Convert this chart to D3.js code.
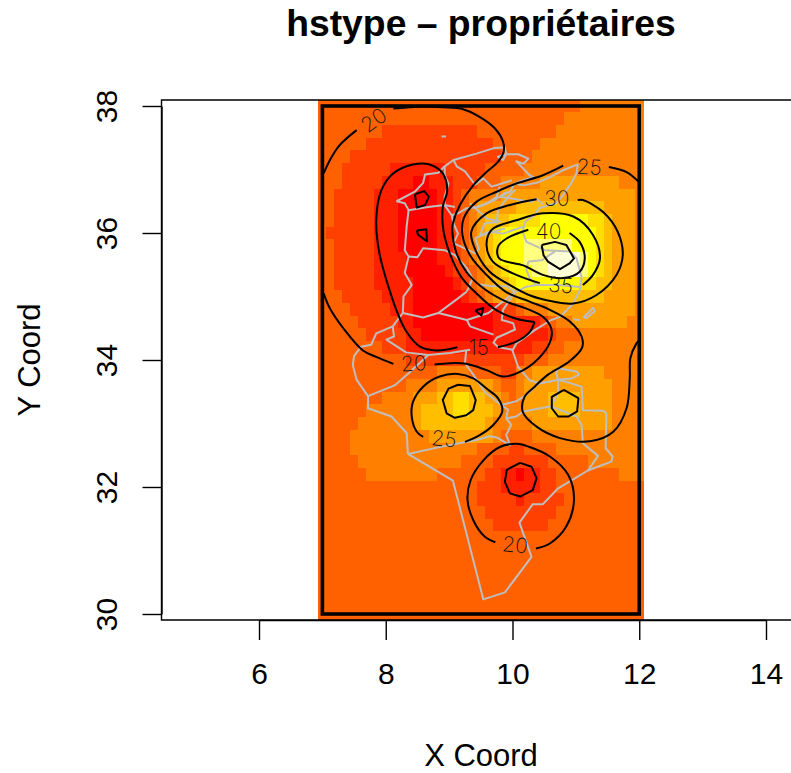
<!DOCTYPE html>
<html><head><meta charset="utf-8">
<script src="https://cdn.jsdelivr.net/npm/d3@7/dist/d3.min.js"></script>
<style>html,body{margin:0;padding:0;background:#fff}svg{display:block}text{font-family:"Liberation Sans",Arial,sans-serif;fill:#000}</style>
</head><body><svg id="c" width="791" height="773"></svg>
<script>
const titleText = "hstype – propriétaires";
const xLabel = "X Coord", yLabel = "Y Coord";
const xTicks = [6,8,10,12,14], yTicks = [30,32,34,36,38];
const heatPalette = ["#FF0000","#FF2000","#FF4000","#FF6000","#FF8000","#FF9F00","#FFBF00","#FFDF00","#FFFF00","#FFFF2A","#FFFF80","#FFFFD5"];
// one entry per grid row, north to south: level:lastColumn runs over 41 columns (7 to 12 degrees)
const heatRows = [
"3:32 4:40","3:30 4:40","3:7 2:19 3:29 4:40","3:5 2:21 3:27 4:40","3:3 2:22 3:26 4:40",
"3:2 2:8 1:15 2:20 3:25 4:40",
"3:2 2:7 1:11 0:13 1:16 2:19 3:22 4:27 5:37 4:40",
"3:1 2:6 1:9 0:14 1:16 2:17 3:18 4:22 5:39 4:40",
"3:1 2:6 1:9 0:14 1:16 2:17 3:18 4:19 5:24 6:35 5:39 4:40",
"3:1 2:6 1:9 0:14 1:16 2:17 3:18 4:19 5:20 6:23 7:27 8:33 7:35 6:36 5:39 4:40",
"3:0 2:6 1:9 0:14 1:16 2:17 3:18 4:19 5:20 6:21 7:22 8:34 7:35 6:36 5:39 4:40",
"3:1 2:6 1:9 0:14 1:16 2:17 3:18 4:19 5:20 6:21 7:22 8:25 10:31 8:34 7:35 6:36 5:39 4:40",
"3:1 2:6 1:10 0:14 1:16 2:17 3:18 4:19 5:20 6:21 7:22 8:25 10:28 11:32 10:33 8:34 7:35 6:36 5:39 4:40",
"3:1 2:6 1:10 0:15 1:16 2:18 3:19 4:20 5:21 6:22 7:23 8:26 10:28 11:32 10:33 8:34 7:35 6:36 5:39 4:40",
"3:1 2:6 1:11 0:16 1:17 2:18 3:19 4:20 5:21 6:23 7:24 8:32 7:34 6:36 5:39 4:40",
"3:2 2:7 1:11 0:17 1:18 2:19 3:20 4:21 5:24 6:35 5:39 4:40",
"3:3 2:8 1:11 0:21 1:22 2:24 3:25 4:28 5:39 4:40",
"3:4 2:9 1:11 0:21 1:27 2:28 3:29 4:31 5:38 4:40",
"3:5 2:10 1:12 0:21 1:28 2:29 3:32 4:40",
"3:7 2:10 1:26 2:28 3:30 4:40",
"3:10 2:25 3:28 4:40",
"3:14 4:18 3:22 2:24 4:26 5:35 4:40",
"3:10 4:14 5:21 4:22 3:24 4:25 5:36 4:40",
"3:7 4:11 5:14 6:16 7:18 6:20 5:22 4:23 3:24 4:25 5:28 6:32 5:36 4:40",
"3:5 4:11 5:12 6:16 7:18 6:21 5:22 4:25 5:28 6:32 5:36 4:40",
"3:4 4:11 5:12 6:20 5:21 4:26 5:36 4:40",
"3:3 4:13 5:21 4:22 3:26 4:40",
"3:3 4:19 3:23 2:25 3:29 4:40",
"3:4 4:17 3:21 2:28 3:33 4:40",
"3:5 4:14 3:20 2:22 1:24 0:25 1:27 2:29 3:37 4:40",
"3:19 2:22 1:27 2:29 3:40",
"3:19 2:24 1:25 2:30 3:40",
"3:20 2:29 3:40","3:21 2:28 3:40",
"3:40","3:40","3:40","3:40","3:40","3:40","3:40"];
// contour pieces [lon,lat]
const contour10a = [[8.46,36.61],[8.61,36.66],[8.68,36.57],[8.62,36.44],[8.49,36.40],[8.46,36.61]];
const contour10b = [[8.49,36.04],[8.64,36.06],[8.65,35.87],[8.51,35.97],[8.49,36.04]];
const contour10c = [[9.41,34.78],[9.54,34.82],[9.51,34.70],[9.41,34.78]];
const contour15a = [[9.13,34.20],[8.80,34.15],[8.54,34.21],[8.33,34.44],[8.19,34.73],[8.06,35.10],[7.90,35.68],[7.85,36.20],[7.93,36.67],[8.12,36.94],[8.43,37.08],[8.69,37.08],[8.90,36.94],[8.97,36.67],[8.90,36.41],[8.91,36.04],[9.01,35.68],[9.19,35.31],[9.43,35.05],[9.75,34.78],[10.06,34.65],[10.35,34.60]];
const contour15a2 = [[10.35,34.60],[10.27,34.44],[10.06,34.29],[9.77,34.20]];
const contour15b = [[10.12,32.38],[10.30,32.32],[10.38,32.14],[10.32,31.95],[10.12,31.85],[9.96,31.90],[9.88,32.08],[9.91,32.27],[10.12,32.38]];
const contour20a = [[7.02,36.94],[7.12,37.15],[7.27,37.38],[7.54,37.62]];
const contour20b = [[8.12,37.96],[8.54,37.99],[8.90,37.98],[9.22,37.95],[9.48,37.83],[9.72,37.65],[9.85,37.44],[9.86,37.28],[9.77,37.12],[9.59,36.96],[9.38,36.75],[9.17,36.44],[9.06,36.15],[9.05,36.04],[9.11,35.70],[9.27,35.39],[9.54,35.13],[9.90,34.92],[10.22,34.81],[10.48,34.68],[10.61,34.50],[10.61,34.34],[10.48,34.10],[10.17,33.84],[9.85,33.74],[9.59,33.84],[9.27,33.94],[9.01,33.95],[8.77,33.93]];
const contour20c = [[8.12,33.94],[7.85,34.05],[7.64,34.15],[7.33,34.50],[7.12,34.81],[7.02,35.05]];
const contour20d = [[10.37,31.03],[10.59,31.11],[10.85,31.38],[10.97,31.80],[10.88,32.19],[10.59,32.48],[10.27,32.63],[10.06,32.68],[9.80,32.63],[9.54,32.42],[9.34,32.11],[9.29,31.80],[9.38,31.48],[9.56,31.22],[9.73,31.13]];
const contour25a = [[11.52,37.04],[11.80,36.96],[12.0,36.80]];
const contour25b = [[10.80,37.06],[10.48,36.91],[10.06,36.78],[9.75,36.65],[9.43,36.49],[9.23,36.23],[9.21,35.97],[9.33,35.65],[9.59,35.34],[9.90,35.07],[10.27,34.92],[10.59,34.79],[10.90,34.61],[11.09,34.37],[11.10,34.20],[10.90,33.98],[10.56,33.77],[10.35,33.58],[10.19,33.42],[10.16,33.19],[10.38,32.95],[10.75,32.77],[11.22,32.72],[11.59,32.87],[11.80,33.24],[11.85,33.71],[11.86,34.03],[11.95,34.25],[12.0,34.31]];
const contour25c = [[8.59,32.79],[8.49,32.87],[8.41,33.11],[8.43,33.34],[8.59,33.58],[8.85,33.74],[9.14,33.78],[9.38,33.71],[9.59,33.55],[9.77,33.40],[9.84,33.20],[9.70,32.98],[9.49,32.82],[9.25,32.71]];
const contour30a = [[10.38,36.53],[9.96,36.44],[9.59,36.31],[9.35,36.02],[9.43,35.70],[9.64,35.39],[9.96,35.18],[10.27,35.02],[10.64,34.92],[10.96,34.89],[11.32,35.02],[11.64,35.34],[11.74,35.65],[11.66,36.02],[11.43,36.33],[11.11,36.52],[11.03,36.52]];
const contour30b = [[9.14,33.61],[9.33,33.59],[9.42,33.37],[9.38,33.21],[9.27,33.13],[9.09,33.09],[8.96,33.16],[8.90,33.37],[8.99,33.55],[9.14,33.61]];
const contour30c = [[10.81,33.53],[11.04,33.40],[11.02,33.19],[10.88,33.11],[10.72,33.11],[10.62,33.24],[10.62,33.42],[10.81,33.53]];
const contour35 = [[11.11,35.18],[11.27,35.34],[11.38,35.60],[11.27,35.97],[10.96,36.26],[10.48,36.31],[10.06,36.20],[9.67,36.05],[9.59,35.81],[9.69,35.55],[10.06,35.34],[10.43,35.21]];
const contour40 = [[10.25,36.05],[9.90,35.91],[9.77,35.78],[9.79,35.60],[10.17,35.49],[10.48,35.34],[10.80,35.29],[11.06,35.39],[11.14,35.60],[11.06,35.86],[10.90,36.0]];
const contour45 = [[10.46,35.81],[10.67,35.86],[10.85,35.81],[10.97,35.60],[10.90,35.52],[10.75,35.43],[10.56,35.55],[10.49,35.65],[10.46,35.81]];
const smoothContours = [contour15a,contour15a2,contour20a,contour20b,contour20c,contour20d,contour25a,contour25b,contour25c,contour30a,contour35,contour40];
const angularContours = [contour10a,contour10b,contour10c,contour15b,contour30b,contour30c,contour45];
const labelTexts = ["20","25","30","40","35","15","20","25","20"];
const labelLon = [7.81,11.21,10.70,10.57,10.76,9.47,8.44,8.92,10.04];
const labelLat = [37.78,37.04,36.54,36.03,35.18,34.19,33.95,32.76,31.09];
const labelAngle = [-35,3,0,0,5,0,-3,6,6];
// region boundaries [lon,lat]
const coastNorth = [[8.17,36.50],[8.46,36.65],[8.59,36.79],[8.62,36.92],[8.83,36.95],[8.93,37.05],[9.07,37.15],[9.43,37.25],[9.72,37.34],[9.88,37.35],[9.90,37.24],[9.77,37.20],[9.85,37.15],[9.90,37.24],[10.09,37.24],[10.25,37.17],[10.17,37.09],[10.06,37.13],[10.27,36.91],[10.33,36.88],[10.17,36.83],[10.03,36.78],[10.17,36.75],[10.38,36.79],[10.59,36.88],[10.80,36.99],[11.03,37.08],[11.01,36.94],[10.93,36.79],[10.80,36.60],[10.69,36.47],[10.41,36.39],[10.35,36.28],[10.20,36.18],[10.16,36.02],[10.22,35.86],[10.51,35.73],[10.91,35.71],[11.01,35.60],[11.09,35.31],[11.06,35.10],[10.96,34.89],[10.75,34.68],[10.61,34.63],[10.35,34.47],[10.06,34.26],[10.00,34.15],[10.09,33.89],[10.27,33.68],[10.43,33.63],[10.72,33.69]];
const borderSouth = [[10.72,33.69],[10.90,33.64],[11.09,33.58],[11.11,33.21],[11.43,33.20],[11.48,33.16],[11.47,32.61],[11.58,32.48],[11.56,32.40],[11.19,32.26],[10.72,31.98],[10.48,31.73],[10.32,31.73],[10.11,31.44],[10.30,30.90],[9.88,30.34],[9.54,30.23],[9.06,32.10],[8.35,32.52]];
const borderWest = [[8.35,32.52],[8.33,32.85],[8.09,33.11],[7.72,33.24],[7.72,33.43],[7.54,33.69],[7.48,33.92],[7.50,34.06],[7.61,34.21],[7.77,34.24],[7.85,34.42],[8.11,34.53],[8.27,34.74]];
const westInterior1 = [[8.17,36.50],[8.30,36.47],[8.36,36.36],[8.67,36.41],[8.93,36.44],[9.09,36.41]];
const northInterior1 = [[8.93,37.05],[8.93,36.91],[8.99,36.78],[8.93,36.57],[8.93,36.44],[9.04,36.28],[9.07,36.15],[9.14,35.99],[9.07,35.84],[9.41,35.68],[9.47,35.75],[9.41,35.92]];
const bizerte = [[9.07,37.15],[9.12,37.05],[9.25,36.97],[9.41,36.76],[9.54,36.86],[9.67,36.73],[9.83,36.78],[9.99,36.83]];
const beja = [[9.04,36.28],[9.14,36.31],[9.28,36.39],[9.46,36.41],[9.72,36.52],[9.91,36.65]];
const westInterior2 = [[8.36,36.36],[8.33,36.10],[8.30,35.73],[8.36,35.63],[8.30,35.37],[8.41,35.18],[8.28,35.0],[8.27,34.74],[8.59,34.67],[8.83,34.74],[9.14,34.97],[9.28,35.08]];
const westInterior3 = [[8.36,35.63],[8.50,35.62],[8.59,35.76],[8.93,35.73],[9.09,35.65],[9.28,35.45],[9.37,35.28],[9.28,35.08]];
const center1 = [[9.41,35.92],[9.59,35.99],[9.88,36.07]];
const center2 = [[9.33,36.47],[9.59,36.23],[9.80,36.18],[9.56,36.15],[9.49,35.97],[9.64,36.02],[9.85,35.99],[10.17,36.10]];
const center3 = [[9.75,36.15],[9.77,36.36],[9.93,36.57],[10.04,36.68]];
const center4 = [[10.25,35.55],[10.46,35.57],[10.67,35.71]];
const center5 = [[10.25,35.55],[10.22,35.42],[10.27,35.29],[10.38,35.18],[10.72,35.18],[11.06,35.15]];
const center6 = [[10.38,35.18],[10.20,35.15],[10.12,35.10],[10.04,35.07]];
const gafsa = [[8.83,34.74],[9.28,34.63],[9.33,34.53],[9.70,34.40]];
const gafsa2 = [[9.28,34.63],[9.62,34.74],[9.91,34.97],[10.04,35.07]];
const sidi = [[9.49,35.19],[9.67,35.16],[9.91,35.16],[10.04,35.07]];
const sfax = [[10.04,35.07],[9.85,34.79],[9.83,34.63],[10.01,34.58],[10.04,34.48],[9.75,34.35],[9.70,34.27],[9.78,34.20],[10.01,34.16]];
const tozeur = [[8.11,34.53],[8.13,34.37],[8.01,34.32],[8.32,34.12],[8.67,34.08],[9.01,34.11],[9.33,34.16]];
const kebili = [[9.27,34.16],[9.25,33.95],[9.38,33.77],[9.56,33.50],[9.82,33.29],[10.06,33.35],[10.22,33.45],[10.43,33.65]];
const tozeur2 = [[7.72,33.43],[8.14,33.60],[8.37,33.80],[8.67,34.08]];
const kebili2 = [[8.35,32.52],[8.90,32.64],[9.43,32.74],[9.64,32.80],[9.75,32.78],[9.96,32.66],[9.90,32.82],[9.98,32.98],[9.90,33.08],[9.93,33.22],[9.82,33.29]];
const medenine = [[9.90,33.08],[10.06,33.11],[10.17,33.19],[10.61,33.27],[11.01,33.11],[11.09,32.98],[11.11,32.69],[11.35,32.49],[11.19,32.26]];
const medenine2 = [[10.72,33.69],[10.72,33.48],[10.61,33.27]];
const djerba = [[10.72,33.87],[11.01,33.82],[11.05,33.77],[10.93,33.71],[10.72,33.69],[10.69,33.79],[10.72,33.87]];
const kerkennah = [[11.12,34.67],[11.27,34.82],[11.30,34.77],[11.17,34.66],[11.12,34.67]];
const islet = [[10.96,34.64],[11.06,34.63]];
const galite = [[8.88,37.52],[8.95,37.52]];
const tunis = [[10.03,36.78],[9.96,36.65],[9.80,36.57],[10.01,36.54],[10.30,36.49],[10.38,36.54],[10.48,36.45]];
const zaghouan = [[9.80,36.73],[9.75,36.57],[9.59,36.46],[9.43,36.41]];
const boundaryPieces = [coastNorth,borderSouth,borderWest,westInterior1,northInterior1,bizerte,beja,westInterior2,westInterior3,center1,center2,center3,center4,center5,center6,gafsa,gafsa2,sidi,sfax,tozeur,kebili,tozeur2,kebili2,medenine,medenine2,djerba,kerkennah,islet,galite,tunis,zaghouan];

const svg = d3.select("#c");
const x = d3.scaleLinear().domain([6,14]).range([259,766]);
const y = d3.scaleLinear().domain([30,38]).range([614,106]);
const stepX = 0.125, stepY = 0.2;
const cells = [];
heatRows.forEach((row,r)=>{ let c=0; row.split(" ").forEach(run=>{ const [lv,end]=run.split(":").map(Number); for(;c<=end;c++) cells.push({c,r,lv}); }); });
svg.append("g").attr("shape-rendering","crispEdges").selectAll("rect").data(cells).join("rect")
  .attr("x",d=>x(7+(d.c-.5)*stepX)).attr("y",d=>y(38-(d.r-.5)*stepY))
  .attr("width",x(7+stepX)-x(7)+.5).attr("height",y(38-stepY)-y(38)+.5)
  .attr("fill",d=>heatPalette[d.lv]);
const line = d3.line().x(d=>x(d[0])).y(d=>y(d[1]));
const smooth = d3.line().x(d=>x(d[0])).y(d=>y(d[1])).curve(d3.curveCatmullRom.alpha(.5));
svg.append("g").attr("fill","none").attr("stroke","#BEBEBE").attr("stroke-width",2).attr("stroke-linejoin","round")
  .selectAll("path").data(boundaryPieces).join("path").attr("d",line);
const contourG = svg.append("g").attr("fill","none").attr("stroke","#000").attr("stroke-width",2).attr("stroke-linejoin","round");
contourG.selectAll("path.s").data(smoothContours).join("path").attr("class","s").attr("d",smooth);
contourG.selectAll("path.a").data(angularContours).join("path").attr("class","a").attr("d",line);
svg.append("g").selectAll("text").data(labelTexts).join("text")
  .attr("transform",(d,i)=>`translate(${x(labelLon[i])},${y(labelLat[i])}) rotate(${labelAngle[i]})`)
  .attr("text-anchor","middle").attr("dy","0.36em").attr("font-size",21)
  .style("font-family","Inter,'Liberation Sans'").style("font-weight",200).style("fill","#111").text(d=>d);
svg.append("rect").attr("x",x(7)).attr("y",y(38)).attr("width",x(12)-x(7)).attr("height",y(30)-y(38))
  .attr("fill","none").attr("stroke","#000").attr("stroke-width",3.6);
svg.append("path").attr("d","M791,100H161.5V620H791").attr("fill","none").attr("stroke","#000").attr("stroke-width",1.4);
const ax = svg.append("g").attr("transform","translate(0,620)").call(d3.axisBottom(x).tickValues(xTicks).tickSize(20).tickSizeOuter(0).tickPadding(23).tickFormat(d3.format("d")));
ax.selectAll("line,path").attr("stroke","#000").attr("stroke-width",1.4);
ax.selectAll("text").attr("font-size",30).style("font-family","'Liberation Sans'");
const ay = svg.append("g").attr("transform","translate(161.5,0)").call(d3.axisLeft(y).tickValues(yTicks).tickSize(19).tickSizeOuter(0).tickFormat(d3.format("d")));
ay.selectAll("line,path").attr("stroke","#000").attr("stroke-width",1.4);
ay.selectAll("text").attr("font-size",30).style("font-family","'Liberation Sans'").attr("text-anchor","middle").attr("x",0).attr("y",0).attr("dy",0)
  .attr("transform","translate(-45,0) rotate(-90)");
svg.append("text").attr("x",481).attr("y",36).attr("text-anchor","middle").attr("font-size",37.3).attr("font-weight","bold").text(titleText);
svg.append("text").attr("x",481).attr("y",766).attr("text-anchor","middle").attr("font-size",31).text(xLabel);
svg.append("text").attr("transform","translate(40,360) rotate(-90)").attr("text-anchor","middle").attr("font-size",31).text(yLabel);
</script></body></html>
